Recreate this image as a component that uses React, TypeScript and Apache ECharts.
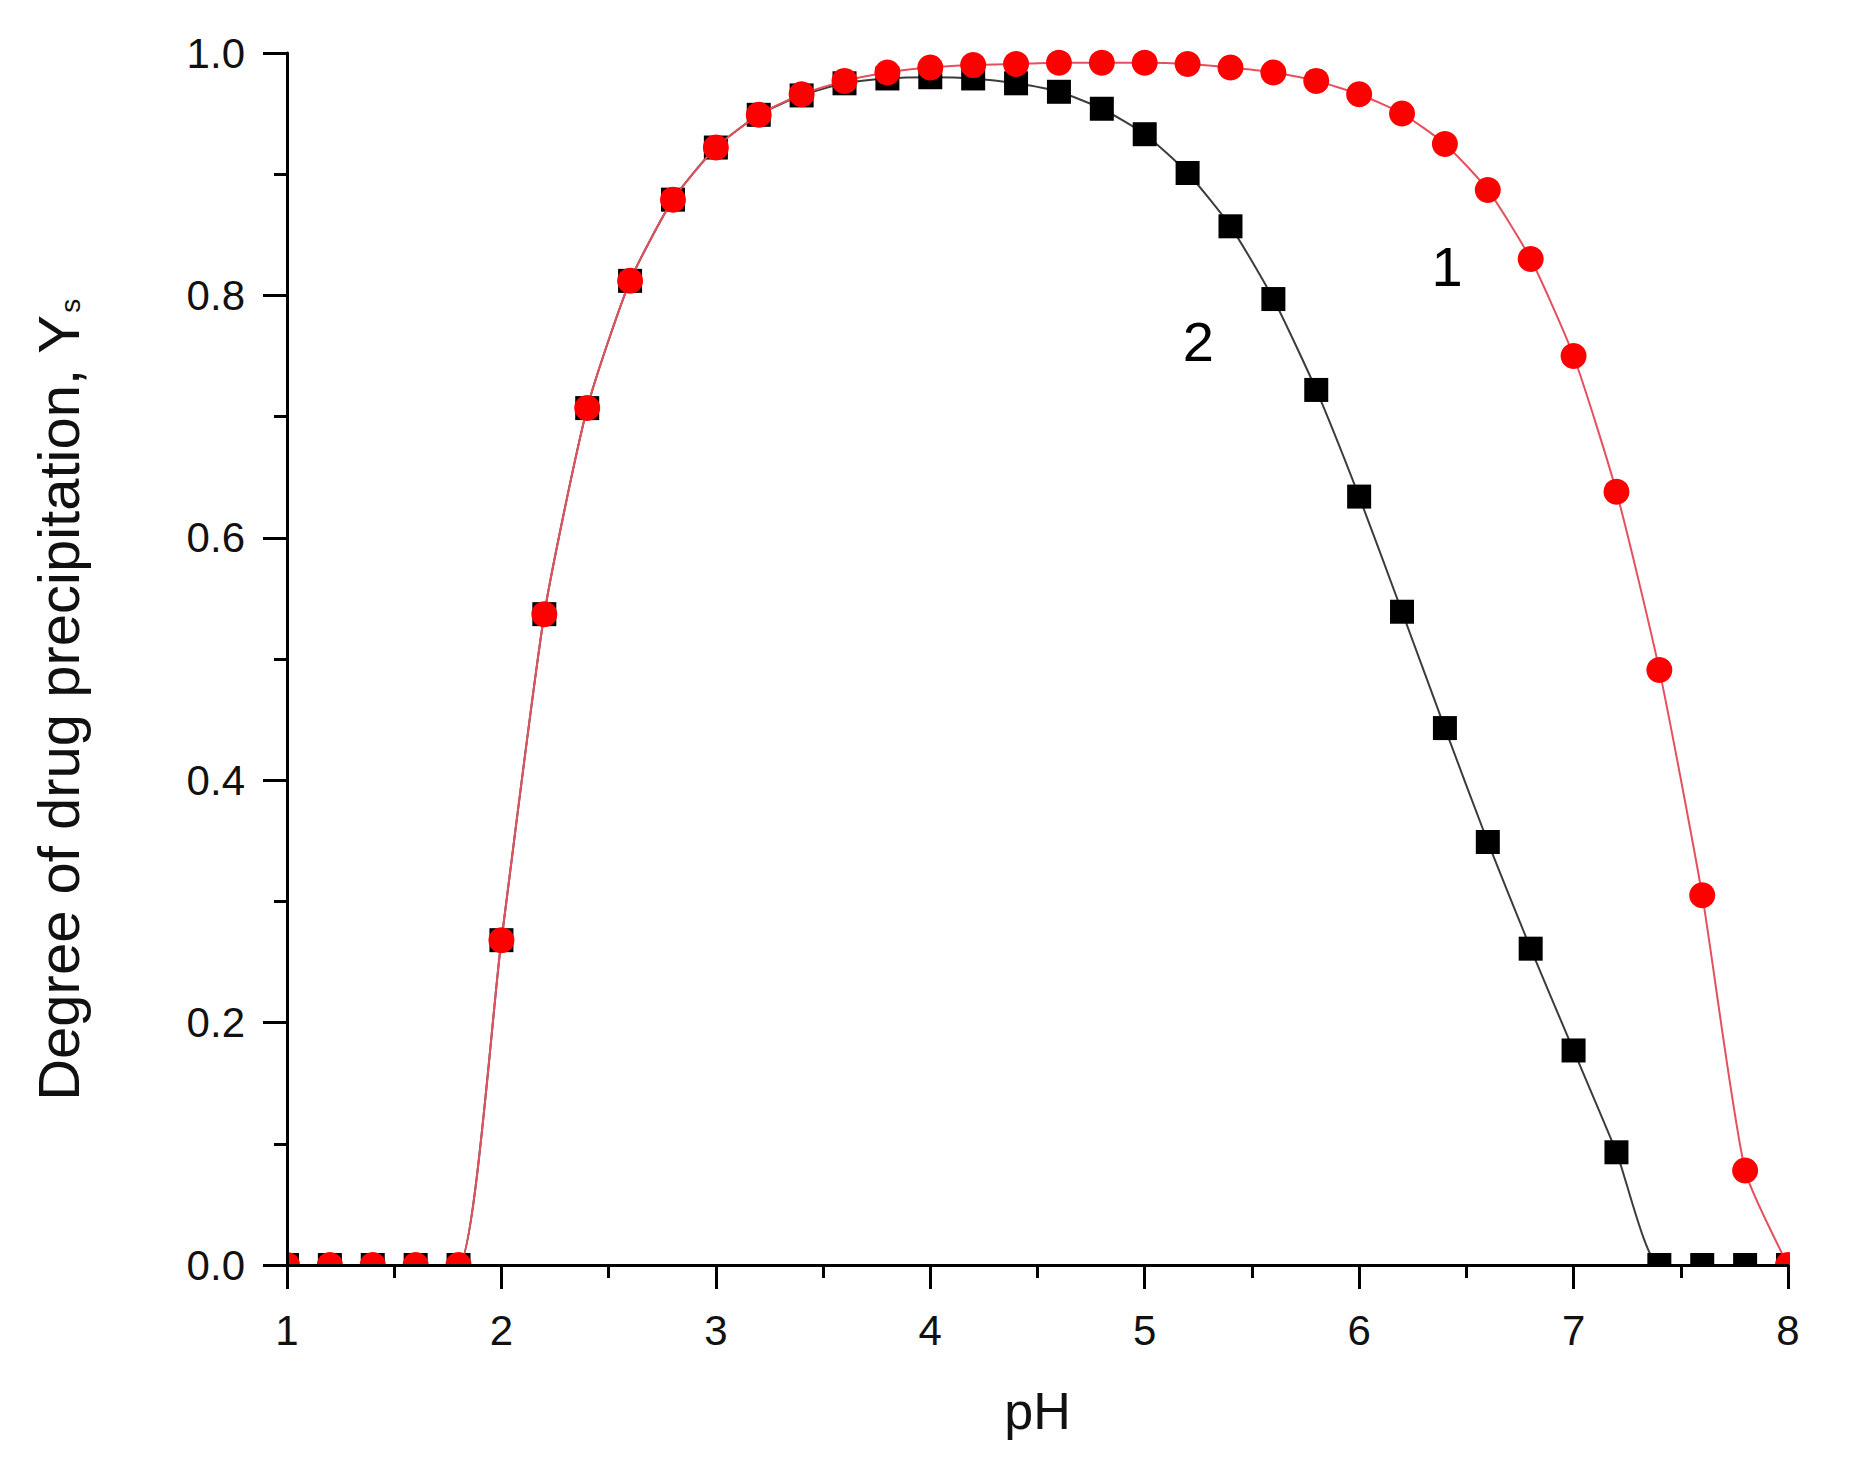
import React, { useEffect, useRef } from "react";
import * as echarts from "echarts";

const pH = [1.0, 1.2, 1.4, 1.6, 1.8, 2.0, 2.2, 2.4, 2.6, 2.8, 3.0, 3.2, 3.4, 3.6, 3.8, 4.0, 4.2, 4.4, 4.6, 4.8, 5.0, 5.2, 5.4, 5.6, 5.8, 6.0, 6.2, 6.4, 6.6, 6.8, 7.0, 7.2, 7.4, 7.6, 7.8, 8.0];
const curve1 = [0, 0, 0, 0, 0, 0.268, 0.537, 0.707, 0.812, 0.879, 0.922, 0.949, 0.966, 0.977, 0.984, 0.988, 0.990, 0.991, 0.992, 0.992, 0.992, 0.991, 0.988, 0.984, 0.977, 0.966, 0.950, 0.925, 0.887, 0.830, 0.750, 0.638, 0.491, 0.305, 0.078, 0];
const curve2 = [0, 0, 0, 0, 0, 0.268, 0.537, 0.707, 0.812, 0.879, 0.922, 0.949, 0.965, 0.975, 0.979, 0.980, 0.979, 0.975, 0.968, 0.954, 0.933, 0.901, 0.857, 0.797, 0.722, 0.634, 0.539, 0.443, 0.349, 0.261, 0.177, 0.093, 0, 0, 0, 0];
const curveLabels = [
  { text: "1", x: 6.41, y: 0.824 },
  { text: "2", x: 5.25, y: 0.762 },
];
const xTitle = "pH";
const yTitleMain = "Degree of drug precipitation, Y";
const yTitleSub = "s";

const FONT = "'Liberation Sans', Arial, sans-serif";

export default function App() {
  const ref = useRef<HTMLDivElement>(null);
  useEffect(() => {
    if (!ref.current) return;
    const chart = echarts.init(ref.current, null, { renderer: "svg" });
    const axisCommon = {
      type: "value",
      z: 10,
      axisLine: { show: true, lineStyle: { color: "#000", width: 3 } },
      axisTick: { show: true, inside: false, length: 24, lineStyle: { color: "#000", width: 3 } },
      minorTick: { show: true, splitNumber: 2, length: 13, lineStyle: { color: "#000", width: 3 } },
      splitLine: { show: false },
      minorSplitLine: { show: false },
    };
    chart.setOption({
      animation: false,
      backgroundColor: "#ffffff",
      grid: { left: 287, top: 53, width: 1501, height: 1212 },
      xAxis: {
        ...axisCommon,
        min: 1,
        max: 8,
        interval: 1,
        name: xTitle,
        nameLocation: "middle",
        nameGap: 120,
        nameTextStyle: { fontSize: 52, color: "#111", fontFamily: FONT },
        axisLabel: { fontSize: 42, color: "#111", fontFamily: FONT, margin: 44 },
      },
      yAxis: {
        ...axisCommon,
        min: 0,
        max: 1,
        interval: 0.2,
        axisLabel: {
          fontSize: 42,
          color: "#111",
          fontFamily: FONT,
          margin: 42,
          formatter: (v: number) => v.toFixed(1),
        },
      },
      graphic: [
        { type: "rect", z: 5, silent: true, shape: { x: 230, y: 1267, width: 1623, height: 28 }, style: { fill: "#fff" } },
        { type: "rect", z: 5, silent: true, shape: { x: 255, y: 1230, width: 31, height: 60 }, style: { fill: "#fff" } },
        { type: "rect", z: 5, silent: true, shape: { x: 1790, y: 1230, width: 63, height: 60 }, style: { fill: "#fff" } },
        {
          type: "text",
          z: 10,
          x: 58,
          y: 700,
          rotation: Math.PI / 2,
          style: {
            text: `{m|${yTitleMain}}{s|${yTitleSub}}`,
            align: "center",
            verticalAlign: "middle",
            fill: "#111",
            rich: {
              m: { fontSize: 58, fontFamily: FONT, fill: "#111" },
              s: { fontSize: 28, fontFamily: FONT, fill: "#111", padding: [24, 0, 0, 2] },
            },
          },
        },
      ],
      series: [
        {
          name: "2",
          type: "line",
          z: 2,
          data: pH.map((x, i) => [x, curve2[i]]),
          symbol: "rect",
          symbolSize: 24,
          smooth: 0.2,
          itemStyle: { color: "#000" },
          lineStyle: { color: "#3c3c3c", width: 2 },
        },
        {
          name: "1",
          type: "line",
          z: 3,
          data: pH.map((x, i) => [x, curve1[i]]),
          symbol: "circle",
          symbolSize: 26,
          smooth: 0.2,
          itemStyle: { color: "#ff0000" },
          lineStyle: { color: "#e4505e", width: 2 },
        },
        {
          name: "labels",
          type: "scatter",
          z: 4,
          symbol: "circle",
          symbolSize: 0.01,
          itemStyle: { color: "#000", opacity: 1 },
          data: curveLabels.map((l) => ({ value: [l.x, l.y], name: l.text })),
          label: {
            show: true,
            position: "inside",
            formatter: (p: any) => p.name,
            fontSize: 56,
            color: "#000",
            opacity: 1,
            fontFamily: FONT,
          },
        },
      ],
    });
    return () => chart.dispose();
  }, []);
  return <div ref={ref} style={{ position: "absolute", left: 0, top: 0, width: 1853, height: 1483 }} />;
}
